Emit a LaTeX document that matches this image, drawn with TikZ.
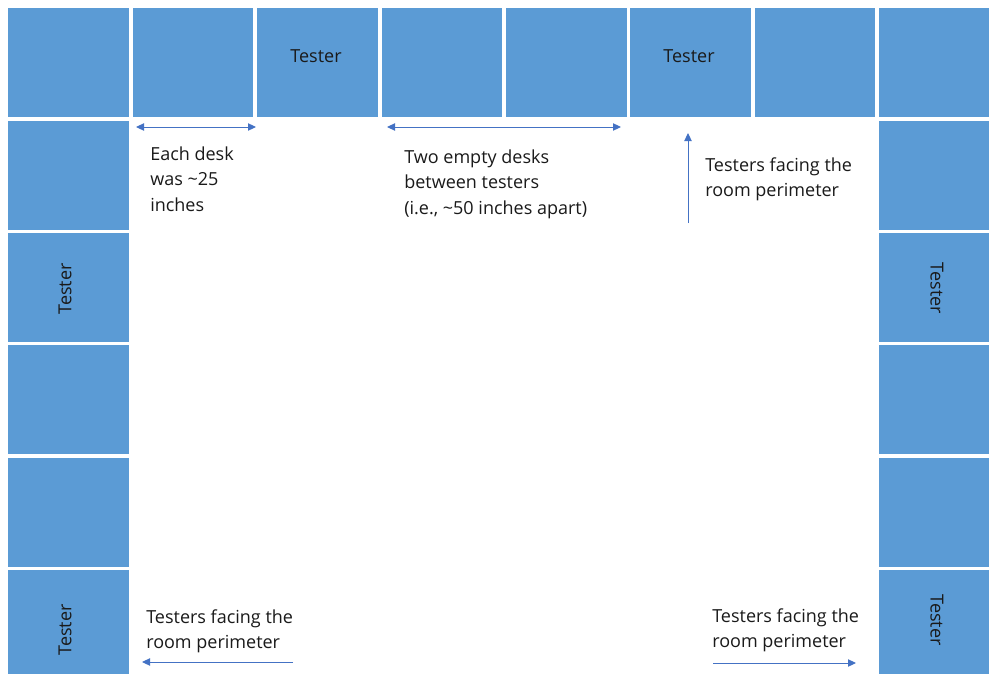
\documentclass[tikz,border=0pt]{standalone}
\usepackage{fontspec}
\setmainfont{Open Sans}
\usetikzlibrary{arrows.meta}
\definecolor{deskblue}{RGB}{91,155,213}
\definecolor{arrowblue}{RGB}{68,114,196}
\definecolor{inkc}{RGB}{26,26,26}
\begin{document}
\begin{tikzpicture}[x=0.75pt,y=-0.75pt,
  desk/.style={rectangle, fill=deskblue, draw=none, inner sep=0pt, anchor=north west,
    minimum width=90.4pt, minimum height=81.75pt},
  lbl/.style={inner sep=0pt, text=inkc, font=\fontsize{13.5}{19.1}\selectfont},
  note/.style={inner sep=0pt, anchor=north west, align=left, text=inkc,
    font=\fontsize{13.5}{19.1}\selectfont},
  arr/.style={draw=arrowblue, line width=0.75pt},
  tip/.tip={Triangle[length=6pt, width=5.5pt]}
]
\useasboundingbox (0,0) rectangle (989,674);
\clip (0,0) rectangle (989,674);
\fill[white] (0,0) rectangle (989,674);

% desks
\foreach \i in {0,...,7} {
  \node[desk] (top\i) at ({8+124.43*\i},8) {};
}
\foreach \j in {1,...,5} {
  \node[desk] (left\j) at (8,{8+112.4*\j}) {};
  \node[desk] (right\j) at ({8+124.43*7},{8+112.4*\j}) {};
}

% tester labels
\node[lbl] (tt1) at (316,56.5) {Tester};
\node[lbl] (tt2) at (689,56.5) {Tester};
\node[lbl, rotate=90] (lt1) at (65,289) {Tester};
\node[lbl, rotate=90] (lt2) at (65,630) {Tester};
\node[lbl, rotate=-90] (rt1) at (937,288.5) {Tester};
\node[lbl, rotate=-90] (rt2) at (937,620) {Tester};

% notes
\node[note] (n1) at (150,146.3) {Each desk\\was \textasciitilde25\\inches};
\node[note] (n2) at (404,149.3) {Two empty desks\\between testers\\(i.e., \textasciitilde50 inches apart)};
\node[note] (n3) at (705,157.3) {Testers facing the\\room perimeter};
\node[note] (n4) at (146,609.3) {Testers facing the\\room perimeter};
\node[note] (n5) at (712,608.3) {Testers facing the\\room perimeter};

% arrows
\coordinate (a1l) at (136,127);
\coordinate (a1r) at (256,127);
\coordinate (a2l) at (387,127);
\coordinate (a2r) at (621,127);
\coordinate (a3s) at (688,223);
\coordinate (a3e) at (688,133);
\coordinate (a4s) at (293,662);
\coordinate (a4e) at (142,662);
\coordinate (a5s) at (713,663);
\coordinate (a5e) at (856,663);
\draw[arr, {tip}-{tip}] (a1l) -- (a1r);
\draw[arr, {tip}-{tip}] (a2l) -- (a2r);
\draw[arr, -{tip}] (a3s) -- (a3e);
\draw[arr, -{tip}] (a4s) -- (a4e);
\draw[arr, -{tip}] (a5s) -- (a5e);
\end{tikzpicture}
\end{document}
